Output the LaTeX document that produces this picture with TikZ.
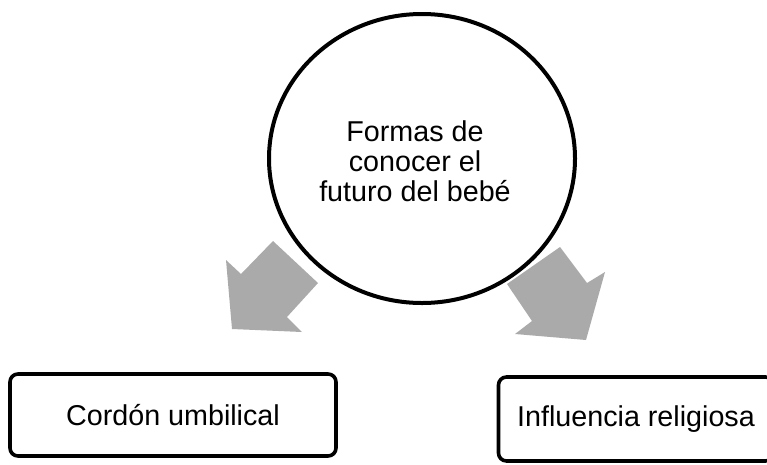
\documentclass[tikz,border=0pt]{standalone}
\usepackage{fontspec}
\setmainfont{Liberation Sans}
\usetikzlibrary{shapes.geometric}
\definecolor{gris}{HTML}{AAAAAA}
\tikzset{
  circulo/.style={ellipse,draw=black,line width=4pt,minimum width=306pt,minimum height=289pt,inner sep=0pt},
  caja/.style={draw=black,line width=3.6pt,rounded corners=8pt,inner sep=0pt,align=center},
  texto/.style={align=center,font=\fontsize{28.7}{30}\selectfont},
  flecha/.style={fill=gris},
}
\begin{document}
\begin{tikzpicture}[x=1pt,y=-1pt]
  \useasboundingbox (0,0) rectangle (767,464);
  \clip (0,0) rectangle (767,464);
  \node[circulo] (tema) at (422,158.5) {};
  \node[texto] (titulo) at (415,161) {Formas de\\conocer el\\futuro del bebé};
  \fill[flecha] (232,329) -- (226,260) -- (241,274) -- (273,241) -- (318,283) -- (287,317) -- (302,332) -- cycle;
  \fill[flecha] (586,340) -- (605,272) -- (587,283) -- (560,247) -- (507,284) -- (532,321) -- (515,334) -- cycle;
  \node[caja,texto,minimum width=326pt,minimum height=82pt] (cordon) at (173,415) {Cordón umbilical};
  \node[caja,texto,minimum width=275pt,minimum height=84pt] (religion) at (636,419) {Influencia religiosa};
\end{tikzpicture}
\end{document}
